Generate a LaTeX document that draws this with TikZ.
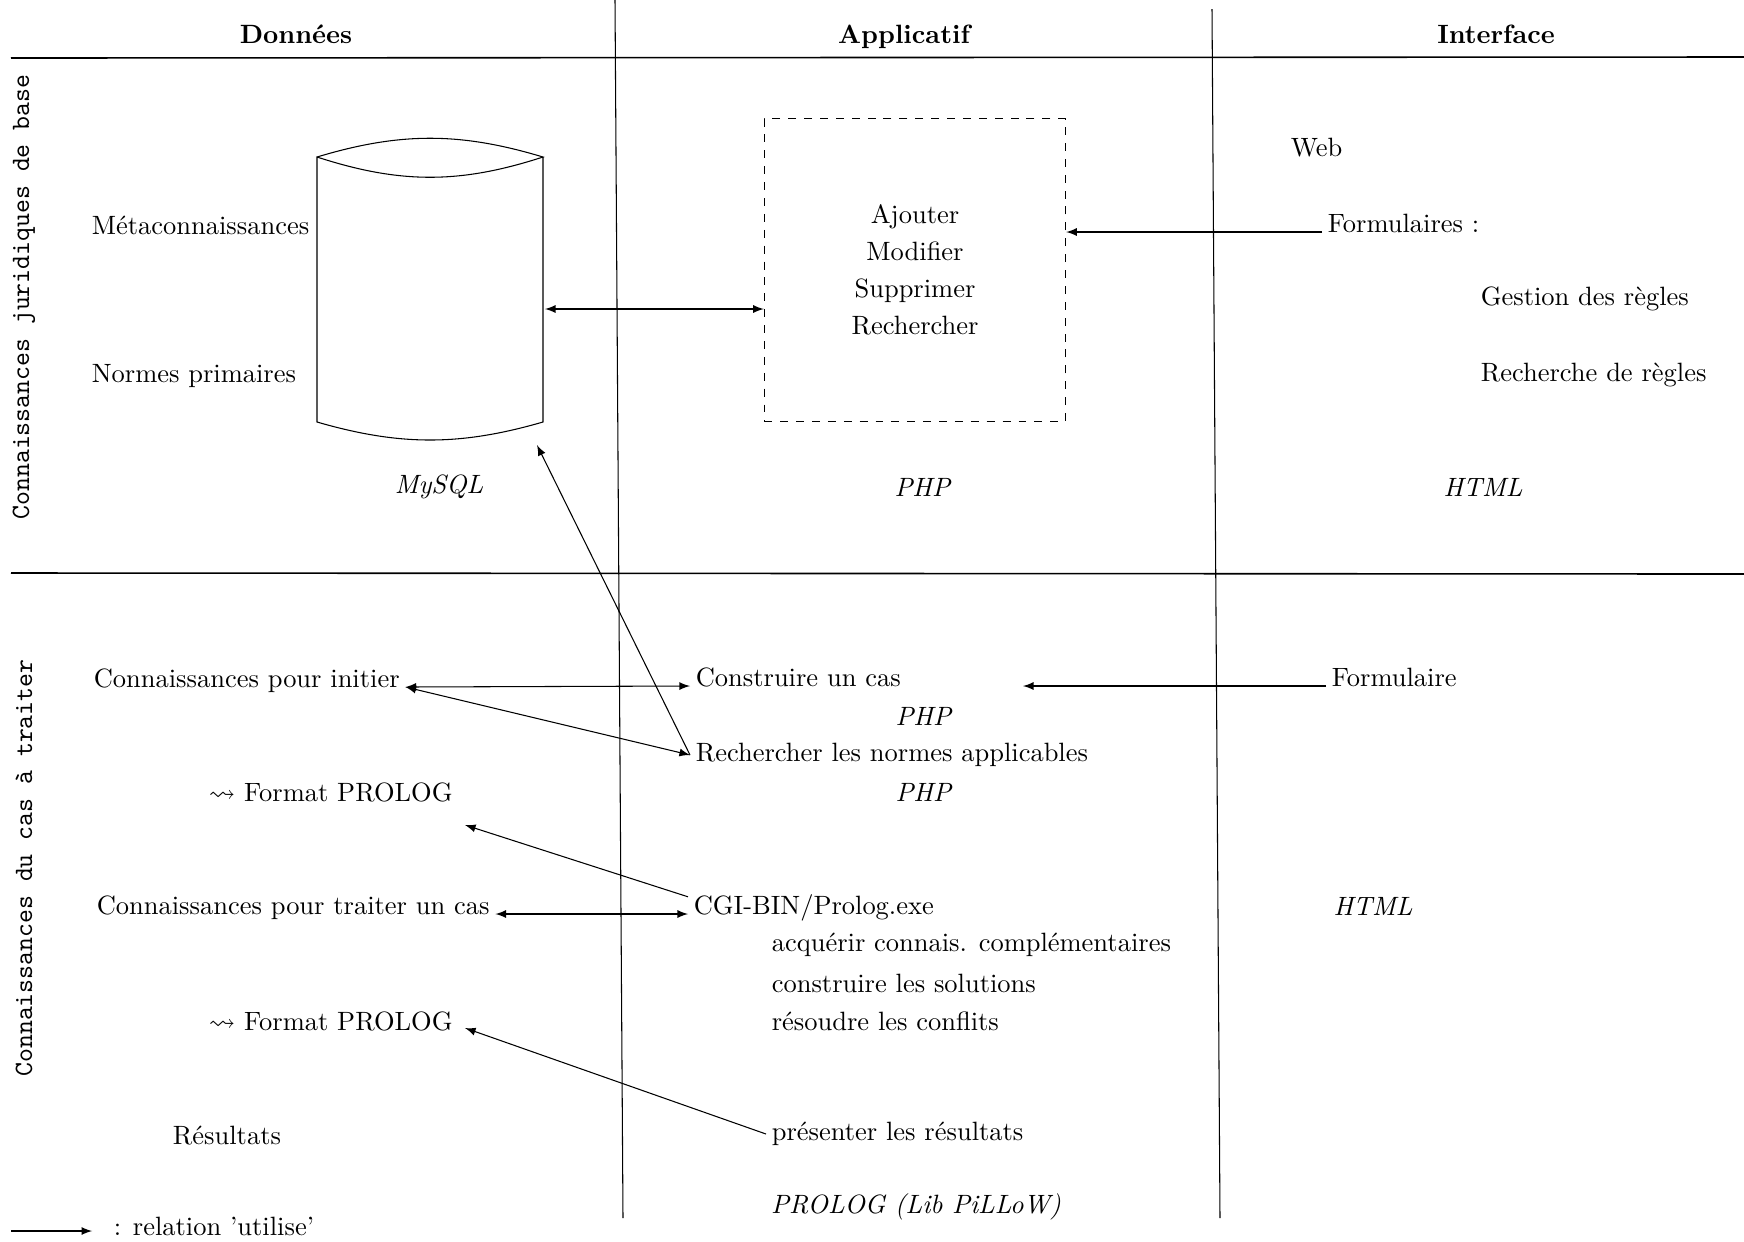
\documentclass[tikz,border=0pt]{standalone}
\usepackage{fontspec}
\usepackage{amssymb}
\begin{document}
\begin{tikzpicture}[x=0.01328cm,y=-0.01328cm,>=latex,
        every node/.style={inner sep=2pt},
        sep/.style={line width=0.6pt},
        side/.style={rotate=90,font=\ttfamily},
        head/.style={font=\bfseries,anchor=base}]
    \useasboundingbox (0,0) rectangle (1744,1241);

    % grille
    \draw[sep] (11,58) -- (1744,57);
    \draw[sep] (11,573) -- (1744,574);
    \draw (615,0) -- (623,1218);
    \draw (1212,9) -- (1220,1218);

    \node[head] (donnees) at (296,43) {Données};
    \node[head] (applicatif) at (904,43) {Applicatif};
    \node[head] (interface) at (1496,43) {Interface};

    \node[side] (base) at (24,297) {Connaissances juridiques de base};
    \node[side] (cas) at (24,868) {Connaissances du cas à traiter};

    % base de donnees
    \draw (317,157) .. controls (400,132) and (460,132) .. (543,157)
        .. controls (460,184) and (400,184) .. (317,157) -- (317,422)
        .. controls (400,446) and (460,446) .. (543,422) -- (543,157);
    \coordinate (dbE) at (545,309);
    \coordinate (dbS) at (537,445);

    \node[anchor=west] (meta) at (86,225) {Métaconnaissances};
    \node[anchor=west] (normes) at (86,376) {Normes primaires};
    \node (mysql) at (439,487) {\emph{MySQL}};

    \node[draw,dashed,minimum width=4cm,minimum height=4.02cm,align=center] (crud) at (915,270)
        {Ajouter\\[2pt]Modifier\\[2pt]Supprimer\\[2pt]Rechercher};
    \node (php) at (923,487) {\emph{PHP}};

    \node[anchor=west] (web) at (1285,148) {Web};
    \node[anchor=base west] (form) at (1322,232) {Formulaires :};
    \node[anchor=west] (gestion) at (1475,299) {Gestion des règles};
    \node[anchor=west] (recherche) at (1475,375) {Recherche de règles};
    \node (html) at (1483,487) {\emph{HTML}};

    \draw[<->] (dbE) -- (crud.west |- dbE);
    \draw[->] (form.base west) -- (crud.east |- form.base west);

    % cas a traiter
    \node[anchor=base west] (initier) at (88,687) {Connaissances pour initier};
    \node[anchor=base west] (construire) at (690,686) {Construire un cas};
    \node (phpA) at (924,716) {\emph{PHP}};
    \node[anchor=west] (normesapp) at (690,755) {Rechercher les normes applicables};
    \node[anchor=west] (prologA) at (203,792) {$\leadsto$ Format PROLOG};
    \node (phpB) at (924,792) {\emph{PHP}};
    \node[anchor=base west] (traiter) at (91,914) {Connaissances pour traiter un cas};
    \node[anchor=base west] (cgi) at (688,914) {CGI-BIN/Prolog.exe};
    \node (htmlA) at (1373,906) {\emph{HTML}};
    \node[anchor=west] (acquerir) at (766,945) {acquérir connais. complémentaires};
    \node[anchor=west] (solutions) at (766,983) {construire les solutions};
    \node[anchor=west] (conflits) at (766,1021) {résoudre les conflits};
    \node[anchor=west] (prologB) at (203,1021) {$\leadsto$ Format PROLOG};
    \node (resultats) at (227,1136) {Résultats};
    \node[anchor=west] (presenter) at (766,1134) {présenter les résultats};
    \node (pillow) at (916,1207) {\emph{PROLOG (Lib PiLLoW)}};
    \node[anchor=base west] (formulaire) at (1326,686) {Formulaire};

    \coordinate (formTip) at (1023,686);
    \coordinate (prologAtip) at (465,825);
    \coordinate (prologBtip) at (465,1028);

    \draw[<->] (initier.base east) -- (construire.base west);
    \draw[<->] (initier.base east) -- (normesapp.west);
    \draw[->] (normesapp.west) -- (dbS);
    \draw[<->] (traiter.base east) -- (cgi.base west);
    \draw[->] ([yshift=4pt]cgi.west) -- (prologAtip);
    \draw[->] (presenter.west) -- (prologBtip);
    \draw[->] (formulaire.base west) -- (formTip);

    % legende
    \coordinate (legA) at (11,1231);
    \node[anchor=base west] (legende) at (108,1235) {: relation 'utilise'};
    \draw[->] (legA) -- ([xshift=-6pt]legende.base west |- legA);
\end{tikzpicture}
\end{document}
